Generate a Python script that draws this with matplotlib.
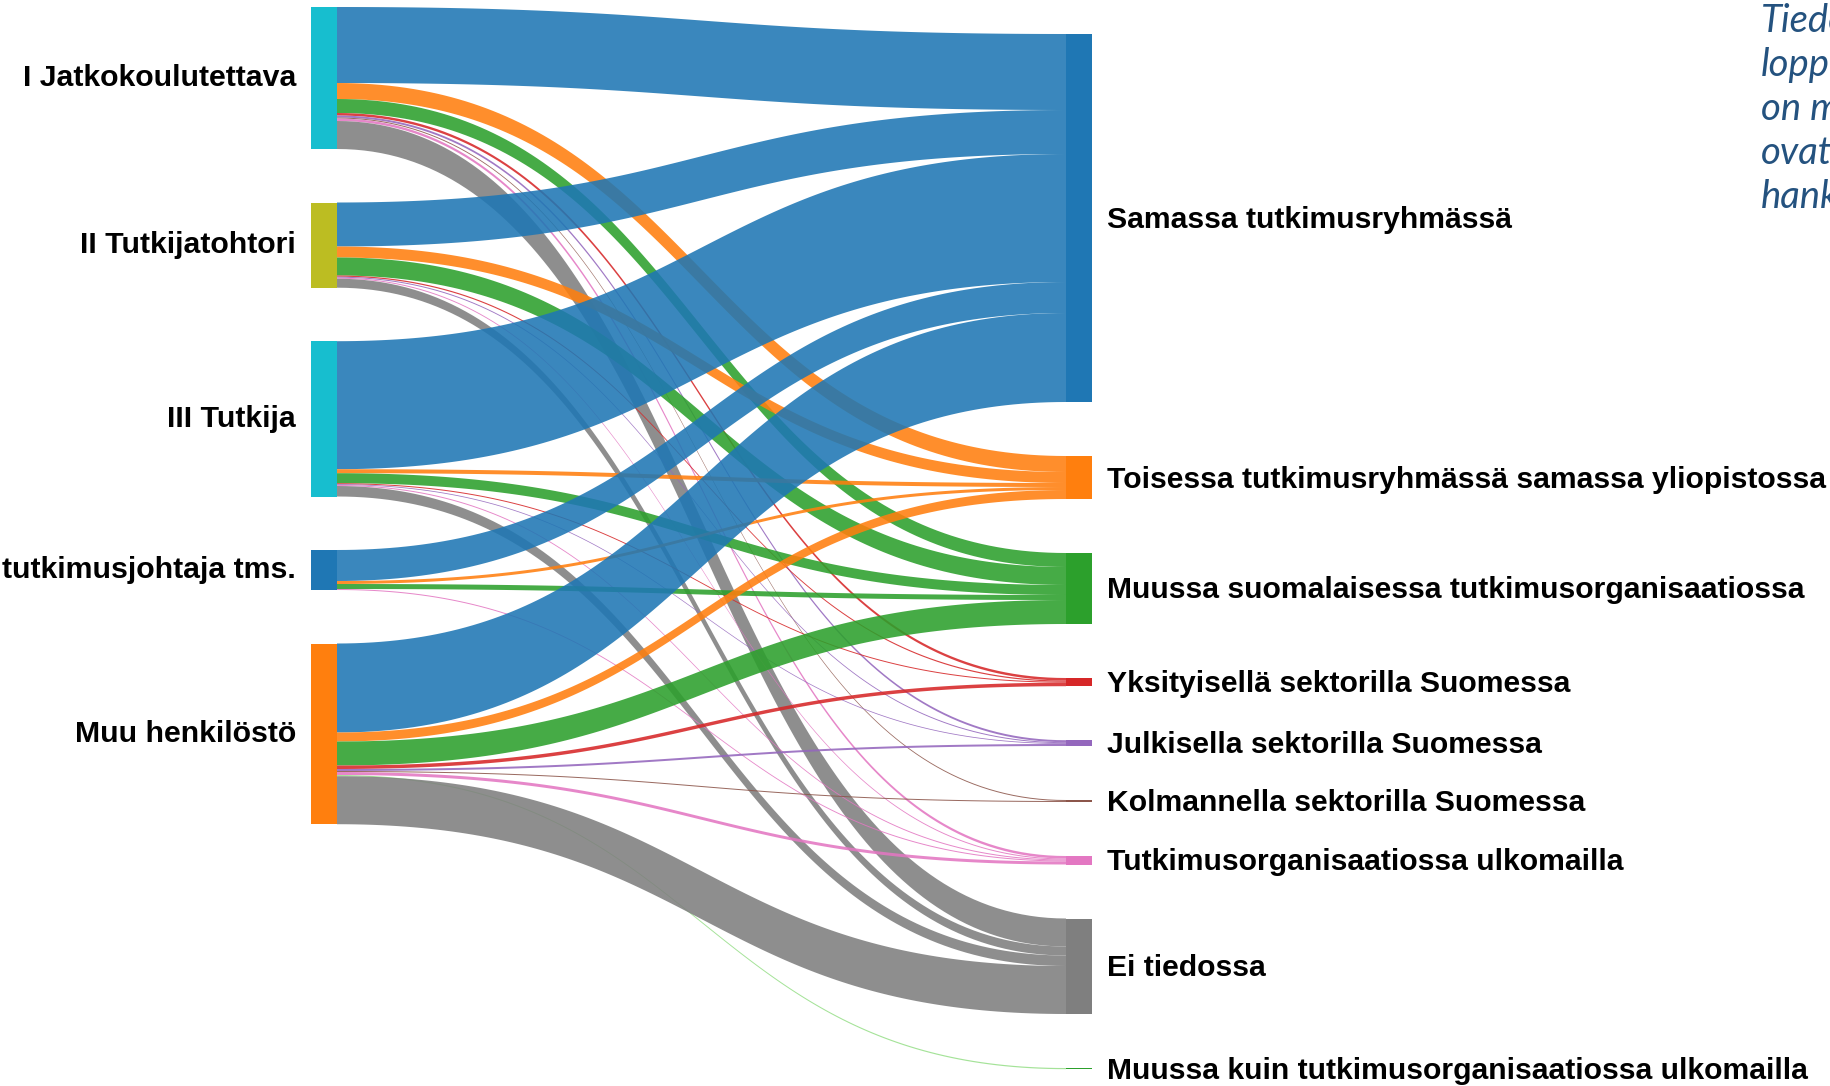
import numpy as np
import matplotlib.pyplot as plt
from matplotlib.patches import Rectangle

# nodes
sources = ['I Jatkokoulutettava', 'II Tutkijatohtori', 'III Tutkija',
           'tutkimusjohtaja tms.', 'Muu henkilöstö']
source_colors = ['#17becf', '#bcbd22', '#17becf', '#1f77b4', '#ff7f0e']

targets = ['Samassa tutkimusryhmässä',
           'Toisessa tutkimusryhmässä samassa yliopistossa',
           'Muussa suomalaisessa tutkimusorganisaatiossa',
           'Yksityisellä sektorilla Suomessa',
           'Julkisella sektorilla Suomessa',
           'Kolmannella sektorilla Suomessa',
           'Tutkimusorganisaatiossa ulkomailla',
           'Ei tiedossa',
           'Muussa kuin tutkimusorganisaatiossa ulkomailla']
target_colors = ['#1f77b4', '#ff7f0e', '#2ca02c', '#d62728', '#9467bd',
                 '#8c564b', '#e377c2', '#7f7f7f', '#2ca02c']

# flows (source index, target index, value), in drawing / stacking order
link_src = [0, 0, 0, 0, 0, 0, 0, 0,
            1, 1, 1, 1, 1, 1, 1,
            2, 2, 2, 2, 2, 2, 2,
            3, 3, 3, 3,
            4, 4, 4, 4, 4, 4, 4, 4, 4]
link_tgt = [0, 1, 2, 3, 4, 5, 6, 7,
            0, 1, 2, 3, 4, 6, 7,
            0, 1, 2, 3, 4, 6, 7,
            0, 1, 2, 6,
            0, 1, 2, 3, 4, 5, 6, 8, 7]
link_val = [76, 16, 14, 2.5, 2, 1, 2.5, 28,
            44, 11, 18, 1.2, 1, 1, 9,
            128, 4, 10, 1, 0.8, 1, 10.5,
            31, 3, 5, 1,
            89, 9, 24, 3.5, 2, 1, 3, 1.2, 48]

note_lines = ['Tiedo', 'loppu', 'on m', 'ovat', 'hank']

label_font = 'Liberation Sans'
link_alpha = 0.88

W, H = 1831, 1086
fig = plt.figure(figsize=(W / 100, H / 100), dpi=100)
ax = fig.add_axes([0, 0, 1, 1])
ax.set_xlim(0, W)
ax.set_ylim(H, 0)
ax.axis('off')

left_x, right_x, node_w = 311, 1066, 26
left_top, right_top = 7, 34
left_gap, right_gap = 53.5, 54

link_src = np.array(link_src)
link_tgt = np.array(link_tgt)
link_val = np.array(link_val, dtype=float)

src_h = [link_val[link_src == i].sum() for i in range(len(sources))]
tgt_h = [link_val[link_tgt == j].sum() for j in range(len(targets))]


def stack(heights, top, gap):
    pos = []
    y = top
    for h in heights:
        pos.append(y)
        y += h + gap
    return pos


src_y = stack(src_h, left_top, left_gap)
tgt_y = stack(tgt_h, right_top, right_gap)

# where each link sits on its source and target node
src_off = list(src_y)
tgt_off = list(tgt_y)
link_y0 = np.zeros(len(link_val))
link_y1 = np.zeros(len(link_val))
for k in range(len(link_val)):
    link_y0[k] = src_off[link_src[k]]
    src_off[link_src[k]] += link_val[k]
for k in np.lexsort((link_src, link_tgt)):
    link_y1[k] = tgt_off[link_tgt[k]]
    tgt_off[link_tgt[k]] += link_val[k]

t = np.linspace(0, 1, 120)
x0 = left_x + node_w
x1 = right_x
xm = (x0 + x1) / 2
bx = (1 - t) ** 3 * x0 + 3 * (1 - t) ** 2 * t * xm + 3 * (1 - t) * t ** 2 * xm + t ** 3 * x1


def curve(ya, yb):
    return (1 - t) ** 3 * ya + 3 * (1 - t) ** 2 * t * ya + 3 * (1 - t) * t ** 2 * yb + t ** 3 * yb


for k in range(len(link_val)):
    top = curve(link_y0[k], link_y1[k])
    bot = curve(link_y0[k] + link_val[k], link_y1[k] + link_val[k])
    col = target_colors[link_tgt[k]]
    if link_tgt[k] == 8:
        col = '#98df8a'
    ax.fill(np.concatenate([bx, bx[::-1]]), np.concatenate([top, bot[::-1]]),
            color=col, alpha=link_alpha, lw=0)

for i, name in enumerate(sources):
    ax.add_patch(Rectangle((left_x, src_y[i]), node_w, src_h[i],
                           color=source_colors[i], lw=0, zorder=3))
    ax.text(left_x - 15, src_y[i] + src_h[i] / 2, name, ha='right', va='center',
            fontsize=21.8, fontweight='bold', family=label_font)

for j, name in enumerate(targets):
    ax.add_patch(Rectangle((right_x, tgt_y[j]), node_w, max(tgt_h[j], 1.2),
                           color=target_colors[j], lw=0, zorder=3))
    ax.text(right_x + node_w + 15, tgt_y[j] + tgt_h[j] / 2 + 2, name, ha='left', va='center',
            fontsize=21.7, fontweight='bold', family=label_font)

for i, line in enumerate(note_lines):
    ax.text(1761, 32 + 44 * i, line, ha='left', va='baseline', fontsize=27.5,
            style='italic', color='#24527f', family='Lato')

fig.savefig('out.png', dpi=100)
